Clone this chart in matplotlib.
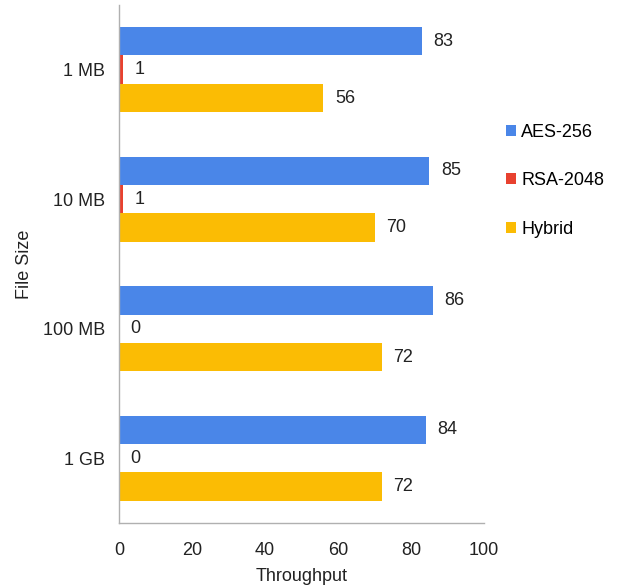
import matplotlib.pyplot as plt
import numpy as np

plt.rcParams['font.family'] = ['Liberation Sans', 'DejaVu Sans']

sizes = ["1 MB", "10 MB", "100 MB", "1 GB"]
aes = [83, 85, 86, 84]
rsa = [1, 1, 0, 0]
hybrid = [56, 70, 72, 72]

series = [("AES-256", aes, "#4a86e8"),
          ("RSA-2048", rsa, "#e8412f"),
          ("Hybrid", hybrid, "#fbbc04")]

fig = plt.figure(figsize=(6.18, 5.86), dpi=100)
ax = fig.add_axes([0.1926, 0.1075, 0.5906, 0.884])

y = np.arange(len(sizes))
h = 0.22
for i, (name, vals, col) in enumerate(series):
    pos = y + (i - 1) * h
    bars = ax.barh(pos, vals, height=h, color=col, label=name)
    for yy, v in zip(pos, vals):
        ax.text(v + 3.2, yy, str(v), va="center", ha="left", fontsize=13, color="#222222")

ax.set_ylim(len(sizes) - 0.5, -0.5)
ax.set_xlim(0, 100)
ax.set_xticks(np.arange(0, 101, 20))
ax.set_yticks(y)
ax.set_yticklabels(sizes)
ax.tick_params(length=0, labelsize=13, colors="#222222")
ax.tick_params(axis="x", pad=14)
ax.tick_params(axis="y", pad=10)

for s in ["top", "right"]:
    ax.spines[s].set_visible(False)
for s in ["left", "bottom"]:
    ax.spines[s].set_color("#b0b0b0")
    ax.spines[s].set_linewidth(1)

ax.set_xlabel("Throughput", fontsize=13, color="#222222", labelpad=6)
ax.set_ylabel("File Size", fontsize=13, color="#222222", labelpad=7)

ax.legend(loc="upper left", bbox_to_anchor=(1.04, 0.785), frameon=False,
          fontsize=13, handlelength=0.55, handleheight=0.55, handletextpad=0.3,
          labelspacing=1.75, borderaxespad=0)

fig.savefig("out.png", dpi=100)
